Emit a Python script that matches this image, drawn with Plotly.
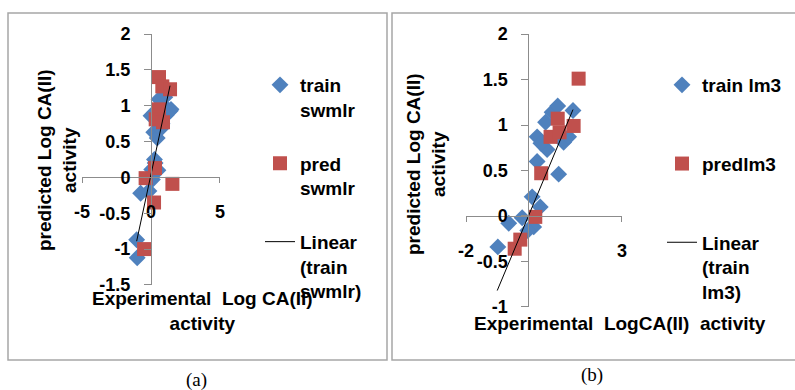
import plotly.graph_objects as go

# ---------------- data ----------------
# Panel (a): swmlr
train_a_x = [-1.0, -1.04, -0.75, -0.15, 0.1, 0.05, 0.25, 0.2, 0.45, 0.7, 0.0, 1.4, 1.1, 0.58, 1.0, 1.05, 1.45, 0.3, 0.5, 0.8]
train_a_y = [-1.12, -0.87, -0.22, -0.19, -0.03, 0.11, 0.25, 0.63, 0.55, 0.68, 0.86, 0.93, 0.87, 1.09, 1.12, 0.98, 0.95, 0.2, 0.1, 0.75]
pred_a_x = [0.58, 0.82, 1.38, 0.58, 0.34, 0.87, 0.29, -0.39, 1.55, 0.22, -0.5]
pred_a_y = [1.40, 1.27, 1.23, 0.95, 0.81, 0.77, 0.13, -0.01, -0.09, -0.35, -1.0]
trend_a_x = [-1.04, 1.38]
trend_a_y = [-0.89, 1.28]

# Panel (b): lm3
train_b_x = [-0.98, -0.63, -0.2, 0.12, 0.38, 0.17, -0.02, 0.28, 0.97, 0.28, 0.6, 0.55, 0.76, 0.94, 1.13, 1.29, 1.43, 0.4, 1.0]
train_b_y = [-0.34, -0.08, -0.02, 0.21, 0.10, -0.12, -0.16, 0.60, 0.46, 0.87, 0.73, 1.03, 1.14, 1.21, 0.81, 0.87, 1.16, 0.80, 0.90]
pred_b_x = [-0.44, -0.26, 0.22, 0.41, 0.71, 0.94, 1.0, 1.45, 1.61]
pred_b_y = [-0.36, -0.26, -0.01, 0.47, 0.87, 1.07, 0.92, 0.99, 1.51]
trend_b_x = [-1.0, 1.43]
trend_b_y = [-0.82, 1.17]

# tick values / labels
xticks_a = [-5, 0, 5]
xticklabels_a = ["-5", "0", "5"]
yticks_a = [-1.5, -1, -0.5, 0, 0.5, 1, 1.5, 2]
yticklabels_a = ["-1.5", "-1", "-0.5", "0", "0.5", "1", "1.5", "2"]
xticks_b = [-2, 3]
xticklabels_b = ["-2", "3"]
yticks_b = [-1, -0.5, 0, 0.5, 1, 1.5, 2]
yticklabels_b = ["-1", "-0.5", "0", "0.5", "1", "1.5", "2"]

names_a = ["train<br>swmlr", "pred<br>swmlr", "Linear<br>(train<br>swmlr)"]
names_b = ["train lm3", "predlm3", "Linear<br>(train<br>lm3)"]

# ---------------- styling ----------------
W, H = 795, 390
BLUE = "#4F81BD"
RED = "#C0504D"
AXC = "#8C8C8C"
FONT = "Liberation Sans, Arial, sans-serif"

xr_a, yr_a = [-5, 5], [-1.5, 2]
xr_b, yr_b = [-2, 3], [-1, 2]
xd_a = [82 / W, 220 / W]
yd_a = [1 - 285 / H, 1 - 34 / H]
xd_b = [466 / W, 622 / W]
yd_b = [1 - 307 / H, 1 - 34 / H]


def cross(dom, rng):
    return dom[0] + (0 - rng[0]) / (rng[1] - rng[0]) * (dom[1] - dom[0])


fig = go.Figure()

def add_panel(tx, ty, px, py, lx, ly, names, xa, ya, leg):
    fig.add_trace(go.Scatter(x=tx, y=ty, mode="markers", name=names[0],
                             marker=dict(symbol="diamond", size=13, color=BLUE, line=dict(width=0)),
                             xaxis=xa, yaxis=ya, legend=leg, legendgroup=leg + "1"))
    fig.add_trace(go.Scatter(x=px, y=py, mode="markers", name=names[1],
                             marker=dict(symbol="square", size=14, color=RED, line=dict(width=0)),
                             xaxis=xa, yaxis=ya, legend=leg, legendgroup=leg + "2"))
    fig.add_trace(go.Scatter(x=lx, y=ly, mode="lines", name=names[2],
                             line=dict(color="black", width=1),
                             xaxis=xa, yaxis=ya, legend=leg, legendgroup=leg + "3"))

add_panel(train_a_x, train_a_y, pred_a_x, pred_a_y, trend_a_x, trend_a_y, names_a, "x", "y", "legend")
add_panel(train_b_x, train_b_y, pred_b_x, pred_b_y, trend_b_x, trend_b_y, names_b, "x2", "y2", "legend2")

tickfont = dict(family=FONT, size=18, color="black", weight="bold")

def xaxis(dom, rng, ydom, yrng, tv, tt):
    return dict(domain=dom, range=[rng[0] - 1e-3, rng[1] + 1e-3], anchor="free",
                position=cross(ydom, yrng), showgrid=False, zeroline=False,
                showline=True, linecolor=AXC, linewidth=1, ticks="outside", ticklen=5,
                tickcolor=AXC, tickmode="array", tickvals=tv, ticktext=tt, tickfont=tickfont,
                ticklabelstandoff=13, fixedrange=True, automargin=False)

def yaxis(dom, rng, xdom, xrng, tv, tt):
    return dict(domain=dom, range=[rng[0] - 1e-3, rng[1] + 1e-3], anchor="free",
                position=cross(xdom, xrng), showgrid=False, zeroline=False,
                showline=True, linecolor=AXC, linewidth=1, ticks="outside", ticklen=7,
                tickcolor=AXC, tickmode="array", tickvals=tv, ticktext=tt, tickfont=tickfont,
                ticklabelstandoff=10, fixedrange=True, automargin=False)

legfont = dict(family=FONT, size=19, color="black", weight="bold")

fig.update_layout(
    width=W, height=H,
    margin=dict(l=0, r=0, t=0, b=0, pad=0, autoexpand=False),
    paper_bgcolor="white", plot_bgcolor="rgba(0,0,0,0)",
    xaxis=xaxis(xd_a, xr_a, yd_a, yr_a, xticks_a, xticklabels_a),
    yaxis=yaxis(yd_a, yr_a, xd_a, xr_a, yticks_a, yticklabels_a),
    xaxis2=xaxis(xd_b, xr_b, yd_b, yr_b, xticks_b, xticklabels_b),
    yaxis2=yaxis(yd_b, yr_b, xd_b, xr_b, yticks_b, yticklabels_b),
    legend=dict(x=260 / W, y=1 - 66 / H, xanchor="left", yanchor="top",
                font=legfont, valign="top", traceorder="grouped",
                tracegroupgap=26, bgcolor="rgba(0,0,0,0)"),
    legend2=dict(x=662 / W, y=1 - 66 / H, xanchor="left", yanchor="top",
                 font=legfont, valign="top", traceorder="grouped",
                 tracegroupgap=51, bgcolor="rgba(0,0,0,0)"),
    showlegend=True,
)

titlefont = dict(family=FONT, size=19, color="black", weight="bold")
ann = [
    dict(text="predicted Log CA(II)<br>activity", x=57 / W, y=1 - 160 / H, textangle=-90),
    dict(text="Experimental\u00a0\u00a0Log CA(II)<br>activity", x=202 / W, y=1 - 311 / H),
    dict(text="predicted Log CA(II)<br>activity", x=426 / W, y=1 - 164 / H, textangle=-90),
    dict(text="Experimental\u00a0\u00a0LogCA(II)\u00a0\u00a0activity", x=620 / W, y=1 - 323 / H),
]
for a in ann:
    fig.add_annotation(xref="paper", yref="paper", showarrow=False,
                       xanchor="center", yanchor="middle", font=titlefont, **a)

capfont = dict(family="Liberation Serif, Times New Roman, serif", size=19, color="black")
fig.add_annotation(text="(a)", x=196 / W, y=1 - 380 / H, xref="paper", yref="paper",
                   xanchor="center", yanchor="middle", showarrow=False, font=capfont)
fig.add_annotation(text="(b)", x=592 / W, y=1 - 375 / H, xref="paper", yref="paper",
                   xanchor="center", yanchor="middle", showarrow=False, font=capfont)

# panel frames
fig.add_shape(type="rect", xref="paper", yref="paper",
              x0=8 / W, x1=387 / W, y0=1 - 360 / H, y1=1 - 13 / H,
              line=dict(color="#A6A6A6", width=1.5), layer="below")
fig.add_shape(type="rect", xref="paper", yref="paper",
              x0=392 / W, x1=1.01, y0=1 - 360 / H, y1=1 - 13 / H,
              line=dict(color="#A6A6A6", width=1.5), layer="below")

fig.write_html("out.html", config={"displayModeBar": False},
               post_script="document.body.style.margin='0px';document.body.style.overflow='hidden';")
